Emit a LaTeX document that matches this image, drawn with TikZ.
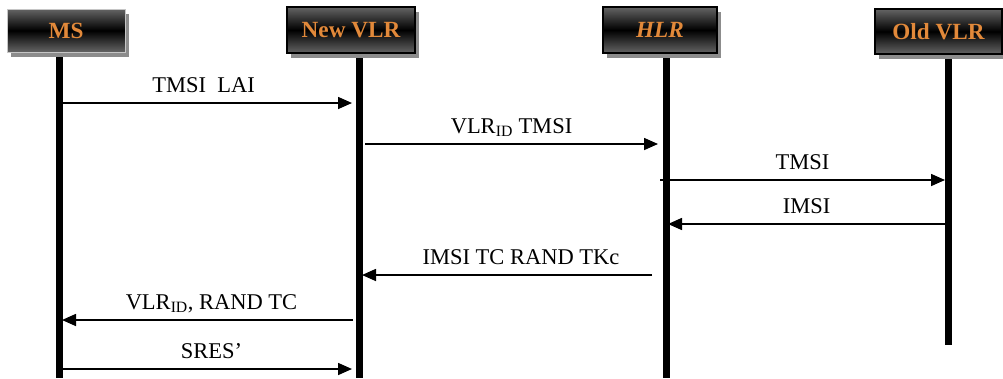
\documentclass[tikz,border=0pt]{standalone}
\usepackage{fontspec}
\setmainfont{Liberation Serif}
\usetikzlibrary{arrows.meta,shadows}
\definecolor{lblorange}{RGB}{226,137,58}
\definecolor{boxgray}{RGB}{100,100,100}
\definecolor{shadowgray}{RGB}{140,140,140}
\begin{document}
\begin{tikzpicture}[x=1pt,y=-1pt,
  actor/.style={draw=black, line width=1.8pt, rectangle,
    top color=boxgray, bottom color=boxgray, middle color=black,
    text=lblorange, font=\fontsize{23.2}{26}\selectfont\bfseries,
    drop shadow={shadow xshift=4pt, shadow yshift=-5pt, fill=shadowgray, opacity=1},
    inner sep=0pt},
  life/.style={line width=7pt},
  msg/.style={line width=1.6pt, -{Triangle[length=14pt,width=12pt]}},
  msglabel/.style={font=\fontsize{22.5}{26}\selectfont, anchor=base, inner sep=0pt, yshift=11pt}]
\useasboundingbox (0,0) rectangle (1003,378);

% lifeline ends
\coordinate (msEnd) at (59,378);
\coordinate (nvEnd) at (359,378);
\coordinate (hlrEnd) at (666,378);
\coordinate (ovEnd) at (948,345);

% lifelines
\draw[life] (59,50) -- (msEnd);
\draw[life] (359,50) -- (nvEnd);
\draw[life] (666,50) -- (hlrEnd);
\draw[life] (948,50) -- (ovEnd);

% entities
\node[actor, draw=gray!45, line width=1pt, minimum width=118pt, minimum height=43pt] (ms) at (66,30.5) {MS};
\node[actor, minimum width=128pt, minimum height=46pt] (nv) at (351,30) {New VLR};
\node[actor, minimum width=114pt, minimum height=46pt] (hlr) at (660,30) {\textit{HLR}};
\node[actor, line width=1.4pt, minimum width=127pt, minimum height=45pt] (ov) at (938.5,31.5) {Old VLR};

% message end points
\coordinate (a1) at (63,103);  \coordinate (b1) at (352,103);
\coordinate (a2) at (365,144); \coordinate (b2) at (658,144);
\coordinate (a3) at (660,180); \coordinate (b3) at (945,180);
\coordinate (a4) at (945,224); \coordinate (b4) at (668,224);
\coordinate (a5) at (652,275); \coordinate (b5) at (362,275);
\coordinate (a6) at (353,320); \coordinate (b6) at (62,320);
\coordinate (a7) at (63,369);  \coordinate (b7) at (352,369);

% messages
\draw[msg] (a1) -- node[msglabel, xshift=-4pt] {TMSI\ \ LAI} (b1);
\draw[msg] (a2) -- node[msglabel] {VLR\textsubscript{ID} TMSI} (b2);
\draw[msg] (a3) -- node[msglabel] {TMSI} (b3);
\draw[msg] (a4) -- node[msglabel] {IMSI} (b4);
\draw[msg] (a5) -- node[msglabel, xshift=14pt] {IMSI TC RAND TKc} (b5);
\draw[msg] (a6) -- node[msglabel, xshift=4pt] {VLR\textsubscript{ID}, RAND TC} (b6);
\draw[msg] (a7) -- node[msglabel, xshift=4pt] {SRES’} (b7);
\end{tikzpicture}
\end{document}
